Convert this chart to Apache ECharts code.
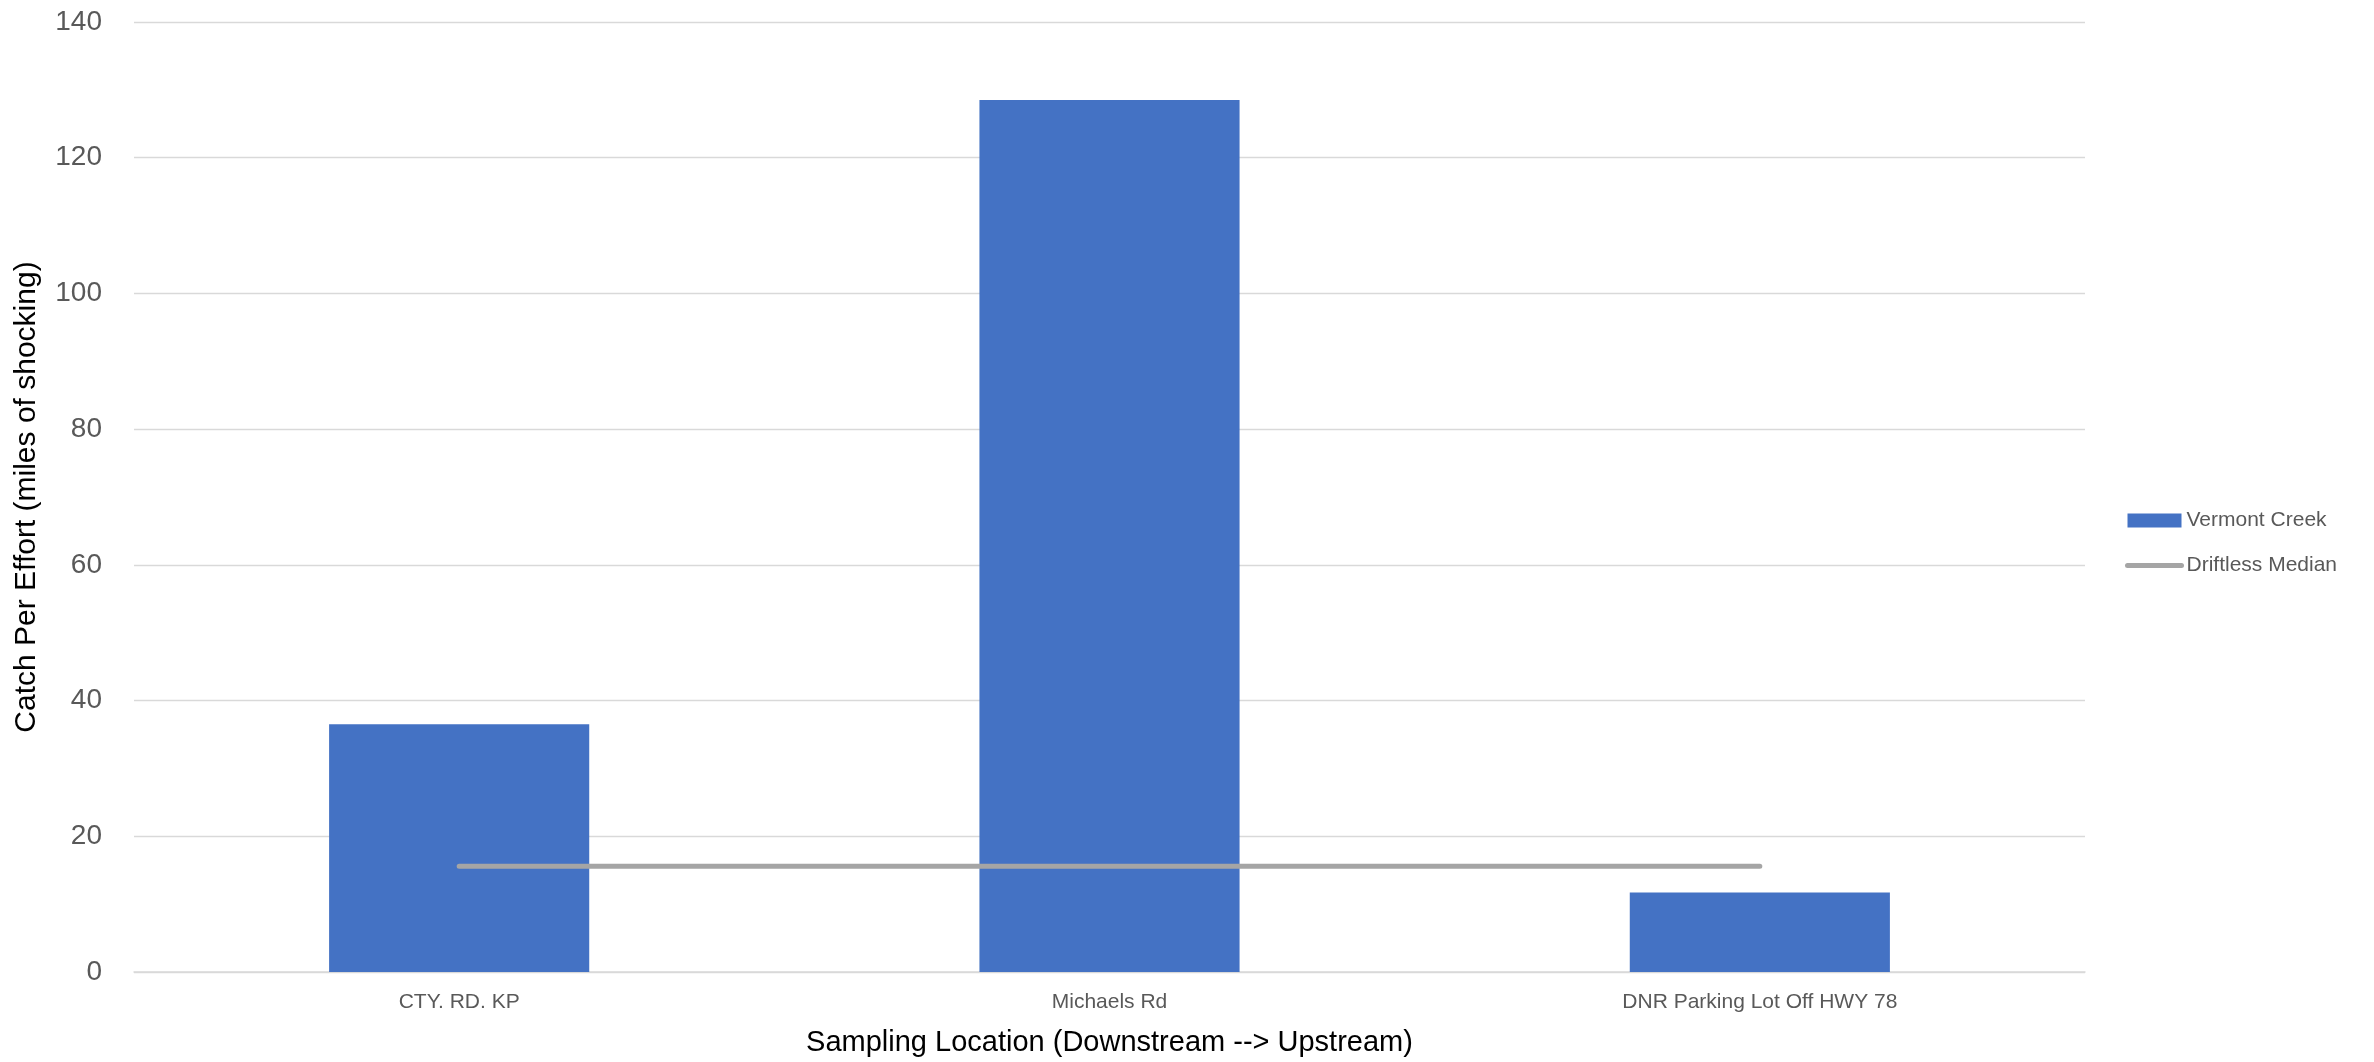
<!DOCTYPE html>
<html>
<head>
<meta charset="utf-8">
<script src="https://cdn.jsdelivr.net/npm/echarts@6/dist/echarts.min.js"></script>
<style>
html,body{margin:0;padding:0;background:#fff;}
#chart{width:2374px;height:1062px;}
</style>
</head>
<body>
<div id="chart"></div>
<script>
const categories = ['CTY. RD. KP', 'Michaels Rd', 'DNR Parking Lot Off HWY 78'];
const vermontCreek = [36.5, 128.5, 11.7];
const driftlessMedian = [15.6, 15.6, 15.6];
const yTicks = [0, 20, 40, 60, 80, 100, 120, 140];

const chart = echarts.init(document.getElementById('chart'), null, {renderer: 'canvas'});
const FONT = 'Liberation Sans';
chart.setOption({
  animation: false,
  backgroundColor: '#ffffff',
  grid: {left: 134, right: 289, top: 22, bottom: 90, containLabel: false},
  legend: {
    orient: 'vertical',
    left: 2125,
    top: 510,
    padding: 0,
    itemWidth: 54,
    itemHeight: 14,
    itemGap: 24,
    textStyle: {fontFamily: FONT, fontSize: 21, color: '#595959'},
    data: [
      {name: 'Vermont Creek', icon: 'rect'},
      {name: 'Driftless Median', itemStyle: {opacity: 0}, lineStyle: {width: 5, color: '#A5A5A5', cap: 'round'}}
    ]
  },
  xAxis: {
    type: 'category',
    data: categories,
    boundaryGap: true,
    name: 'Sampling Location (Downstream --> Upstream)',
    nameLocation: 'middle',
    nameGap: 56,
    nameTextStyle: {fontFamily: FONT, fontSize: 29, color: '#000000'},
    axisLine: {show: true, lineStyle: {color: '#D9D9D9', width: 1.5}},
    axisTick: {show: false},
    axisLabel: {fontFamily: FONT, fontSize: 21, color: '#595959', margin: 20}
  },
  yAxis: {
    type: 'value',
    min: yTicks[0],
    max: yTicks[yTicks.length - 1],
    interval: 20,
    name: 'Catch Per Effort (miles of shocking)',
    nameLocation: 'middle',
    nameGap: 92,
    nameTextStyle: {fontFamily: FONT, fontSize: 30, color: '#000000'},
    axisLine: {show: false},
    axisTick: {show: false},
    axisLabel: {fontFamily: FONT, fontSize: 28, color: '#595959', margin: 32},
    splitLine: {lineStyle: {color: '#D9D9D9', width: 1.3}}
  },
  series: [
    {
      name: 'Vermont Creek',
      type: 'bar',
      data: vermontCreek,
      barWidth: '40%',
      itemStyle: {color: '#4472C4'}
    },
    {
      name: 'Driftless Median',
      type: 'line',
      data: driftlessMedian,
      symbol: 'none',
      showSymbol: false,
      lineStyle: {color: '#A5A5A5', width: 5, cap: 'round'},
      itemStyle: {color: '#A5A5A5'}
    }
  ]
});
</script>
</body>
</html>
